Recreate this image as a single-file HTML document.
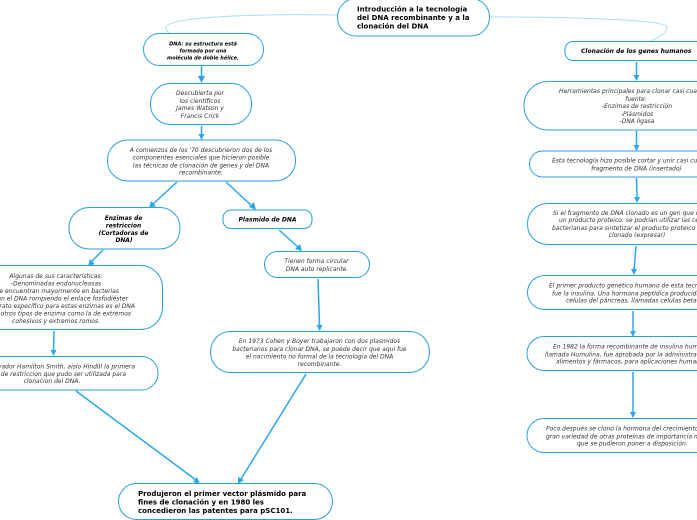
<!DOCTYPE html>
<html><head><meta charset="utf-8"><style>
html,body{margin:0;padding:0;background:#fff;width:697px;height:520px;overflow:hidden}
svg{display:block}
text{font-family:"DejaVu Sans",sans-serif;fill:#333;font-style:italic;font-size:6px;text-anchor:middle}
.s{text-anchor:start}
.e{text-anchor:end}
.b{fill:#000;font-weight:bold}
.m{fill:#000;font-weight:bold;font-style:normal;font-size:7px;text-anchor:start}
rect{fill:#fff;stroke:#2a9fe0;stroke-width:1}
.l{stroke:#2aa7ea;stroke-width:1.5;fill:none}
.c{stroke:#a8dcf5;stroke-width:1;fill:none}
.a{fill:#2aa7ea;stroke:none}
</style></head><body>
<svg width="697" height="520" viewBox="0 0 697 520" xmlns="http://www.w3.org/2000/svg">
<path class="c" d="M337 15C280 14 170 15 166 27Q165 31 170 33"/>
<path class="c" d="M490 17C560 17 665 19 667 27Q668 33 651 41"/>

<path class="l" d="M201.500 66V78"/><polygon class="a" points="198,76 205,76 201.500,83"/>
<path class="l" d="M201.500 126V135"/><polygon class="a" points="198.500,134 204.500,134 201.500,140"/>
<path class="l" d="M177 182L153 204"/><polygon class="a" points="149,208 151,201 156,206"/>
<path class="l" d="M226 182L252 206"/><polygon class="a" points="256,210 249,207 254,202"/>
<path class="l" d="M103 250L91 262"/><polygon class="a" points="88,266 90,259 95,264"/>
<path class="l" d="M54 331L53.500 351"/><polygon class="a" points="50.500,350 56.500,350 53.500,356"/>
<path class="l" d="M279 230L298 247"/><polygon class="a" points="302,251 295,249 300,244"/>
<path class="l" d="M318 279L319.500 326"/><polygon class="a" points="316.500,325 322.500,325 319.500,331"/>
<path class="l" d="M76 391L196 480"/><polygon class="a" points="200,484 193,482 197,477"/>
<path class="l" d="M306 374L241 479"/><polygon class="a" points="238,484 238,477 244,480"/>

<path class="l" d="M636.500 62V76"/><polygon class="a" points="633.500,75 639.500,75 636.500,81"/>
<path class="l" d="M636.500 131V146"/><polygon class="a" points="633.500,145 639.500,145 636.500,151"/>
<path class="l" d="M636.500 178L637 198"/><polygon class="a" points="634,197 640,197 637,203"/>
<path class="l" d="M636 246L634 270"/><polygon class="a" points="631,269 637,269 634,275"/>
<path class="l" d="M633 311V332"/><polygon class="a" points="630,331 636,331 633,337"/>
<path class="l" d="M633 372V413"/><polygon class="a" points="630,412 636,412 633,418"/>

<rect x="337.500" y="-1.500" width="152" height="37.500" rx="18.500"/>
<text class="m" x="357" y="11.500">Introducción a la tecnología</text>
<text class="m" x="357" y="20">del DNA recombinante y a la</text>
<text class="m" x="357" y="28.500">clonación del DNA</text>

<rect x="143.500" y="33.500" width="120" height="32" rx="16"/>
<text class="b" x="203" y="45.500" style="font-size:5px">DNA: su estructura está</text>
<text class="b" x="203" y="52.500" style="font-size:5px">formada por una</text>
<text class="b" x="203" y="59.500" style="font-size:5px">molécula de doble hélice.</text>

<rect x="150.500" y="83.500" width="101" height="41" rx="20"/>
<text x="200" y="95">Descubierta por</text>
<text x="200" y="103">los científicos</text>
<text x="200" y="110">James Watson y</text>
<text x="200" y="118">Francis Crick</text>

<rect x="107.500" y="140" width="188" height="41" rx="20"/>
<text x="201" y="152">A comienzos de los '70 descubrieron dos de los</text>
<text x="201" y="159.500">componentes esenciales que hicieron posible</text>
<text x="201" y="167.500">las técnicas de clonación de genes y del DNA</text>
<text x="201" y="174.500">recombinante.</text>

<rect x="69" y="207.500" width="111" height="41.500" rx="20"/>
<text class="b" x="123.500" y="220" style="font-size:5.900px">Enzimas de</text>
<text class="b" x="123.500" y="227.500" style="font-size:5.900px">restriccion</text>
<text class="b" x="123.500" y="235" style="font-size:5.900px">(Cortadoras de</text>
<text class="b" x="124" y="242" style="font-size:5.900px">DNA)</text>

<rect x="-30" y="265.500" width="192.500" height="64" rx="22"/>
<text x="56" y="278">Algunas de sus características:</text>
<text x="56" y="285.500">-Denominadas endonucleasas</text>
<text class="e" x="119" y="293">-Se encuentran mayormente en bacterias</text>
<text class="e" x="128" y="300.500">-Cortan el DNA rompiendo el enlace fosfodiéster</text>
<text class="e" x="135" y="308">-El sustrato específico para estas enzimas es el DNA</text>
<text class="e" x="131" y="315.500">-Hay otros tipos de enzima como la de extremos</text>
<text x="56" y="323">cohesivos y extremos romos.</text>

<rect x="-40" y="356.500" width="198" height="33.500" rx="16.500"/>
<text class="e" x="135" y="368.500">Salvador Hamilton Smith, aislo HindIII la primera</text>
<text class="e" x="126" y="376">enzima de restriccion que pudo ser utilizada para</text>
<text x="52" y="383">clonacion del DNA.</text>

<rect x="223" y="210" width="89" height="18.500" rx="8"/>
<text class="b" x="267.500" y="221.500" style="font-size:6px">Plasmido de DNA</text>

<rect x="264.500" y="251.500" width="105" height="26" rx="13"/>
<text x="316.500" y="263">Tienen forma circular</text>
<text x="317" y="271">DNA auto replicante.</text>

<rect x="210.500" y="331.500" width="219" height="41" rx="20"/>
<text x="319.500" y="343">En 1973 Cohen y Boyer trabajaron con dos plasmidos</text>
<text x="319.500" y="351">bacterianos para clonar DNA, se puede decir que aqui fue</text>
<text x="319.500" y="358.500">el nacimiento no formal de la tecnologia del DNA</text>
<text x="319.500" y="366">recombinante.</text>

<rect x="118.500" y="483.500" width="214" height="36" rx="18"/>
<text class="m" x="138" y="496">Produjeron el primer vector plásmido para</text>
<text class="m" x="138" y="504.500">fines de clonación y en 1980 les</text>
<text class="m" x="138" y="513">concedieron las patentes para pSC101.</text>

<rect x="565" y="41.500" width="160" height="19" rx="8"/>
<text class="b s" x="581" y="53">Clonación de los genes humanos</text>

<rect x="524" y="81.500" width="240" height="48.500" rx="24"/>
<text class="s" x="559" y="93">Herramientas principales para clonar casi cualquier</text>
<text x="636" y="101">fuente:</text>
<text x="637" y="108">-Enzimas de restricción</text>
<text x="637" y="116">-Plásmidos</text>
<text x="637" y="123">-DNA ligasa</text>

<rect x="529.500" y="151" width="220" height="26" rx="13"/>
<text class="s" x="552" y="162.500">Esta tecnología hizo posible cortar y unir casi cualquier</text>
<text x="636.500" y="170.500">fragmento de DNA (insertado)</text>

<rect x="527.500" y="203.500" width="230" height="41" rx="20"/>
<text class="s" x="553" y="215">Si el fragmento de DNA clonado es un gen que codifica</text>
<text class="s" x="559" y="222">un producto proteico, se podrían utilizar las células</text>
<text class="s" x="552" y="230">bacterianas para sintetizar el producto proteico del gen</text>
<text x="637" y="237">clonado (expresar)</text>

<rect x="527.500" y="275.500" width="230" height="34" rx="17"/>
<text class="s" x="549" y="287.500">El primer producto genético humano de esta tecnología</text>
<text class="s" x="552" y="295.500">fue la insulina. Una hormona peptídica producida por</text>
<text class="s" x="566" y="302.500">células del páncreas, llamadas células beta.</text>

<rect x="527" y="336.500" width="230" height="34" rx="17"/>
<text class="s" x="553" y="348.500">En 1982 la forma recombinante de insulina humana,</text>
<text class="s" x="545" y="356.500">llamada Humulina, fue aprobada por la administración de</text>
<text class="s" x="556" y="363.500">alimentos y fármacos, para aplicaciones humanas.</text>

<rect x="527" y="418.500" width="230" height="34" rx="17"/>
<text class="s" x="546" y="430.500">Poco después se clono la hormona del crecimiento y una</text>
<text class="s" x="546" y="438.500">gran variedad de otras proteínas  de importancia médica</text>
<text class="s" x="577" y="445.500">que se pudieron poner a disposición.</text>
</svg>
</body></html>
